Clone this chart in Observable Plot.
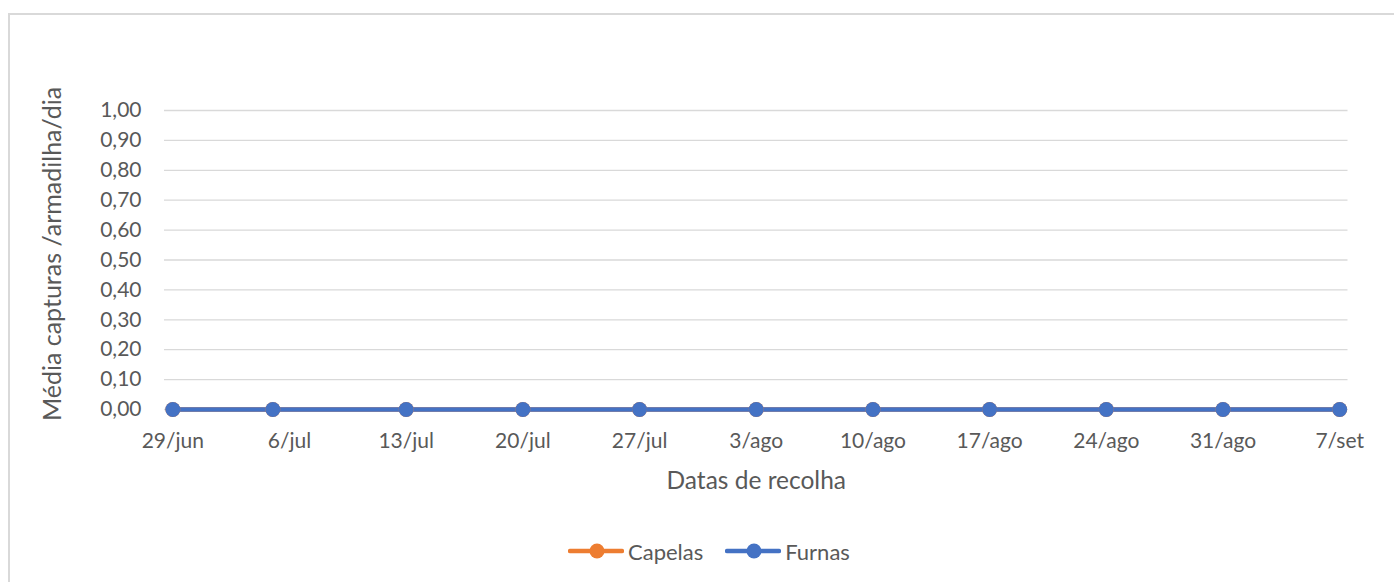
<!DOCTYPE html>
<html>
<head>
<meta charset="utf-8">
<script src="https://cdn.jsdelivr.net/npm/d3@7"></script>
<script src="https://cdn.jsdelivr.net/npm/@observablehq/plot@0.6"></script>
<style>
  html, body { margin: 0; padding: 0; background: #fff; }
  body { width: 1394px; height: 582px; overflow: hidden; position: relative; font-family: Lato, "Open Sans", sans-serif; color: #595959; }
  #frame { position: absolute; left: 8px; top: 13px; width: 1400px; height: 600px; border: 2px solid #d9d9d9; box-sizing: border-box; }
  #chart { position: absolute; left: 10px; top: 15px; }
  #legend { position: absolute; left: 568px; top: 536px; height: 30px; display: flex; align-items: center; font-size: 22px; color: #595959; }
  .item { display: flex; align-items: center; margin-right: 22px; }
  .item svg { margin-right: 4px; }
</style>
</head>
<body>
<div id="frame"></div>
<div id="chart"></div>
<div id="legend"></div>
<script>
// Data
const dates = ["2020-06-29", "2020-07-05", "2020-07-13", "2020-07-20", "2020-07-27", "2020-08-03", "2020-08-10", "2020-08-17", "2020-08-24", "2020-08-31", "2020-09-07"];
const capelas = [0, 0, 0, 0, 0, 0, 0, 0, 0, 0, 0];
const furnas = [0, 0, 0, 0, 0, 0, 0, 0, 0, 0, 0];
const seriesNames = ["Capelas", "Furnas"];
const seriesColors = ["#ED7D31", "#4472C4"];
const xTickDates = ["2020-06-29", "2020-07-06", "2020-07-13", "2020-07-20", "2020-07-27", "2020-08-03", "2020-08-10", "2020-08-17", "2020-08-24", "2020-08-31", "2020-09-07"];
const xTickLabels = ["29/jun", "6/jul", "13/jul", "20/jul", "27/jul", "3/ago", "10/ago", "17/ago", "24/ago", "31/ago", "7/set"];
const yTicks = [0, 0.1, 0.2, 0.3, 0.4, 0.5, 0.6, 0.7, 0.8, 0.9, 1.0];
const xTitle = "Datas de recolha";
const yTitle = "Média capturas /armadilha/dia";

const parse = s => new Date(s + "T00:00:00Z");
const rows = [];
dates.forEach((d, i) => {
  rows.push({date: parse(d), value: capelas[i], series: seriesNames[0]});
});
dates.forEach((d, i) => {
  rows.push({date: parse(d), value: furnas[i], series: seriesNames[1]});
});
const tickDates = xTickDates.map(parse);
const labelMap = new Map(tickDates.map((d, i) => [+d, xTickLabels[i]]));

const halfDay = 12 * 3600 * 1000;
const chart = Plot.plot({
  width: 1384,
  height: 490,
  marginLeft: 154,
  marginRight: 46.5,
  marginTop: 95,
  marginBottom: 96,
  style: {fontFamily: "Lato, 'Open Sans', sans-serif", fontSize: "21px", color: "#595959", background: "transparent", overflow: "visible"},
  x: {type: "utc", domain: [new Date(+tickDates[0] - halfDay), new Date(+tickDates[tickDates.length - 1] + halfDay)]},
  y: {domain: [0, 1]},
  marks: [
    Plot.gridY(yTicks, {stroke: "#d9d9d9", strokeOpacity: 1, strokeWidth: 1.3}),
    Plot.axisY(yTicks, {tickSize: 0, tickPadding: 23, tickFormat: d => d.toFixed(2).replace(".", ","), label: null, fill: "#595959", fontSize: 21}),
    Plot.axisX(tickDates, {tickSize: 0, tickPadding: 24, tickFormat: d => labelMap.get(+d), label: null, fill: "#595959", fontSize: 21}),
    Plot.text([yTitle], {frameAnchor: "left", dx: -112, dy: -6, rotate: -90, textAnchor: "middle", lineAnchor: "middle", fontSize: 25, fill: "#595959"}),
    Plot.text([xTitle], {frameAnchor: "bottom", dy: 72, textAnchor: "middle", lineAnchor: "middle", fontSize: 24.5, fill: "#595959"}),
    ...seriesNames.map((name, k) => Plot.line(rows.filter(r => r.series === name), {x: "date", y: "value", stroke: seriesColors[k], strokeWidth: 4.5})),
    ...seriesNames.map((name, k) => Plot.dot(rows.filter(r => r.series === name), {x: "date", y: "value", fill: seriesColors[k], r: 7.5}))
  ]
});
document.getElementById("chart").appendChild(chart);

const legend = document.getElementById("legend");
seriesNames.forEach((name, k) => {
  const item = document.createElement("div");
  item.className = "item";
  item.innerHTML = `<svg width="56" height="20"><line x1="2" y1="10" x2="54" y2="10" stroke="${seriesColors[k]}" stroke-width="4.5" stroke-linecap="round"/><circle cx="29" cy="10" r="7.5" fill="${seriesColors[k]}"/></svg><span>${name}</span>`;
  legend.appendChild(item);
});
</script>
</body>
</html>
